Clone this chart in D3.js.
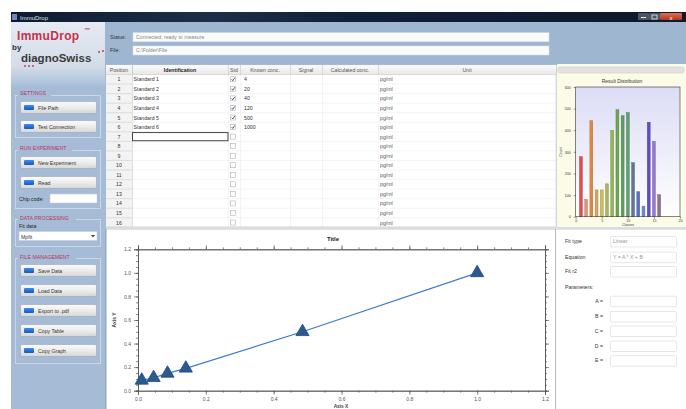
<!DOCTYPE html>
<html><head><meta charset="utf-8">
<script src="https://cdn.jsdelivr.net/npm/d3@7"></script>
<style>
html,body{margin:0;padding:0;background:#fff;}
svg{display:block;font-family:"Liberation Sans",Arial,sans-serif;}
</style></head>
<body><svg id="c" width="686" height="409"></svg>
<script>
// ---------- data ----------
const calX = [0.011, 0.046, 0.087, 0.141, 0.485, 1.0];
const calY = [0.088, 0.11, 0.147, 0.19, 0.50, 1.0];
const xTicks = [0.0, 0.2, 0.4, 0.6, 0.8, 1.0, 1.2];
const yTicks = [0.0, 0.2, 0.4, 0.6, 0.8, 1.0, 1.2];

const histBins = [1, 2, 3, 4, 5, 6, 7, 8, 9, 10, 11, 12, 13, 14, 15, 16];
const histCounts = [278, 80, 444, 124, 124, 152, 399, 495, 467, 482, 250, 116, 49, 437, 349, 102];
const histColors = ["#d9504c","#d9987c","#e0893c","#d6a85c","#cabd5c","#aab45e","#93b552","#6da84e","#5f9e5c","#5e9f73","#5f7890","#5371c4","#6a86ea","#5c4fc4","#9474d6","#8c6c98"];
const histXTicks = [0, 5, 10, 15, 20];
const histYTicks = [0, 100, 200, 300, 400, 500, 600];

const tableCols = ["Position", "Identification", "Std", "Known conc.", "Signal", "Calculated conc.", "Unit"];
const positions = [1,2,3,4,5,6,7,8,9,10,11,12,13,14,15,16];
const idents = ["Standard 1","Standard 2","Standard 3","Standard 4","Standard 5","Standard 6"];
const knownConc = ["4","20","40","120","500","1000"];
const unitLabel = "pg/ml";

const sideGroups = [
  {title:"SETTINGS", items:["File Path","Test Connection"]},
  {title:"RUN EXPERIMENT", items:["New Experiment","Read"]},
  {title:"DATA PROCESSING", items:[]},
  {title:"FILE MANAGEMENT", items:["Save Data","Load Data","Export to .pdf","Copy Table","Copy Graph"]}
];
const fitLabels = ["Fit type","Equation","Fit r2"];
const fitValues = ["Linear","Y = A * X + B",""];
const paramNames = ["A =","B =","C =","D =","E ="];

// ---------- drawing ----------
const svg = d3.select("#c");
const defs = svg.append("defs");
function lg(id, stops, x2=0, y2=1){
  const g = defs.append("linearGradient").attr("id",id).attr("x1",0).attr("y1",0).attr("x2",x2).attr("y2",y2);
  stops.forEach(s=>g.append("stop").attr("offset",s[0]).attr("stop-color",s[1]));
}
lg("tb",[[0,"#0d1b2e"],[0.3,"#1d2f48"],[0.5,"#0f1f35"],[1,"#0c1a2c"]],1,0);
lg("btn",[[0,"#fbfbfb"],[0.5,"#ececec"],[1,"#d6d6d6"]]);
lg("logo",[[0,"#e6ebf2"],[0.7,"#d3dce8"],[1,"#a9bfd9"]]);
lg("hdr",[[0,"#fbfbfb"],[1,"#e8e8e8"]]);
lg("histbg",[[0,"#dcdcf6"],[1,"#ffffff"]],0,1);
lg("icon",[[0,"#3f8cf0"],[1,"#1456c8"]]);
lg("close",[[0,"#d9705a"],[1,"#b8341c"]]);

// window background
svg.append("rect").attr("x",11).attr("y",12).attr("width",675).attr("height",397).attr("fill","#9fb6d0");
// title bar
svg.append("rect").attr("x",11).attr("y",12).attr("width",675).attr("height",10).attr("fill","url(#tb)");
svg.append("rect").attr("x",12).attr("y",14).attr("width",5).attr("height",6).attr("fill","#6f86c0");
svg.append("text").attr("x",20).attr("y",19.5).attr("font-size",6).attr("fill","#dfe6f0").text("ImmuDrop");
svg.append("rect").attr("x",638).attr("y",13).attr("width",11).attr("height",7).attr("fill","#4a5566").attr("rx",1);
svg.append("rect").attr("x",649).attr("y",13).attr("width",11).attr("height",7).attr("fill","#4a5566").attr("rx",1);
svg.append("rect").attr("x",660).attr("y",13).attr("width",22).attr("height",7).attr("fill","url(#close)").attr("rx",1);
svg.append("rect").attr("x",641).attr("y",17).attr("width",5).attr("height",1).attr("fill","#eee");
svg.append("rect").attr("x",652).attr("y",15).attr("width",5).attr("height",4).attr("fill","none").attr("stroke","#eee").attr("stroke-width",0.8);
svg.append("text").attr("x",671).attr("y",19.5).attr("text-anchor","middle").attr("font-size",6).attr("fill","#fff").text("x");

// sidebar
svg.append("rect").attr("x",11).attr("y",22).attr("width",94).attr("height",387).attr("fill","#a6bcd6");
svg.append("rect").attr("x",11).attr("y",22).attr("width",94).attr("height",64).attr("fill","url(#logo)");
// logo
svg.append("text").attr("x",17).attr("y",40).attr("font-size",12).attr("font-weight","bold").attr("fill","#c5304e").attr("letter-spacing",0.3).text("ImmuDrop");
svg.append("text").attr("x",84).attr("y",32).attr("font-size",6).attr("font-weight","bold").attr("fill","#c5304e").text("™");
svg.append("text").attr("x",12).attr("y",50).attr("font-size",8).attr("font-weight","bold").attr("fill","#333").text("by");
svg.append("text").attr("x",21).attr("y",62).attr("font-size",11.5).attr("font-weight","bold").attr("fill","#3a3a3a").text("diagnoSwiss");
[[99,52],[103,51]].forEach(p=>svg.append("circle").attr("cx",p[0]).attr("cy",p[1]).attr("r",1).attr("fill","#c5304e"));
[[25,66],[29,66],[33,66]].forEach(p=>svg.append("circle").attr("cx",p[0]).attr("cy",p[1]).attr("r",0.9).attr("fill","#c5304e"));

// side groups
const groupY = [[89,95,137],[144,150,208],[214,219,246],[253,258,363]];
const btnY = [[101,120],[156,176],[],[264,284,304,324,344]];
sideGroups.forEach((g,i)=>{
  const [ty,by,bb] = groupY[i];
  svg.append("rect").attr("x",15.5).attr("y",by+0.5).attr("width",85).attr("height",bb-by).attr("fill","none").attr("stroke","#c9d7e7").attr("stroke-width",1);
  svg.append("rect").attr("x",18).attr("y",ty).attr("width",g.title.length*3.6+4).attr("height",8).attr("fill","#a6bcd6");
  svg.append("text").attr("x",20).attr("y",ty+6).attr("font-size",5.2).attr("fill","#b8365a").text(g.title);
  g.items.forEach((it,j)=>{
    const y = btnY[i][j];
    svg.append("rect").attr("x",20.5).attr("y",y+0.5).attr("width",76).attr("height",12).attr("rx",1.5).attr("fill","url(#btn)").attr("stroke","#9aa6b4").attr("stroke-width",0.6);
    svg.append("rect").attr("x",24).attr("y",y+4).attr("width",10).attr("height",5).attr("rx",1).attr("fill","url(#icon)");
    svg.append("text").attr("x",38).attr("y",y+8.5).attr("font-size",5.2).attr("fill","#333").text(it);
  });
});
svg.append("text").attr("x",19).attr("y",201).attr("font-size",5.2).attr("fill","#222").text("Chip code:");
svg.append("rect").attr("x",50).attr("y",194).attr("width",47).attr("height",9).attr("fill","#fff").attr("stroke","#c0c8d2").attr("stroke-width",0.5);
svg.append("text").attr("x",19).attr("y",228).attr("font-size",5.2).attr("fill","#222").text("Fit data");
svg.append("rect").attr("x",19).attr("y",231.5).attr("width",78).attr("height",9).attr("fill","#fff").attr("stroke","#c0c8d2").attr("stroke-width",0.5);
svg.append("text").attr("x",21).attr("y",238.5).attr("font-size",5.2).attr("fill","#333").text("Mpfit");
svg.append("path").attr("d","M91,235 L95,235 L93,237.5 Z").attr("fill","#444");

// status & file
[["Status:",32.7,"Connected, ready to measure"],["File:",46,"C:\\Folder\\File"]].forEach(r=>{
  svg.append("text").attr("x",110).attr("y",r[1]+6).attr("font-size",5.2).attr("fill","#333").text(r[0]);
  svg.append("rect").attr("x",133).attr("y",r[1]).attr("width",416).attr("height",9).attr("fill","#fbfbfb").attr("stroke","#d8dfe8").attr("stroke-width",0.5);
  svg.append("text").attr("x",136).attr("y",r[1]+6.3).attr("font-size",5.2).attr("fill","#888").text(r[2]);
});

// ---------- table ----------
const colX = [106, 132, 228, 240, 290, 322, 378, 556];
const tTop = 65, hdrH = 9.5, rowH = 9.55;
svg.append("rect").attr("x",106).attr("y",tTop).attr("width",450).attr("height",hdrH+rowH*16+1).attr("fill","#fff").attr("stroke","#b9c2cc").attr("stroke-width",0.5);
svg.append("rect").attr("x",106).attr("y",tTop).attr("width",450).attr("height",hdrH).attr("fill","url(#hdr)");
svg.append("rect").attr("x",106).attr("y",tTop+hdrH).attr("width",26).attr("height",rowH*16).attr("fill","#f3f3f3");
tableCols.forEach((c,i)=>{
  svg.append("line").attr("x1",colX[i+1]+0.5).attr("x2",colX[i+1]+0.5).attr("y1",tTop).attr("y2",tTop+hdrH+rowH*16).attr("stroke", i===0?"#c8c8c8":"#ececec").attr("stroke-width",0.6);
  svg.append("line").attr("x1",colX[i+1]+0.5).attr("x2",colX[i+1]+0.5).attr("y1",tTop).attr("y2",tTop+hdrH).attr("stroke","#c8c8c8").attr("stroke-width",0.6);
  svg.append("text").attr("x",(colX[i]+colX[i+1])/2).attr("y",tTop+6.5).attr("text-anchor","middle").attr("font-size",5.2)
    .attr("font-weight", i===1?"bold":"normal").attr("fill", i===1?"#222":"#555").text(c);
});
svg.append("line").attr("x1",106).attr("x2",556).attr("y1",tTop+hdrH).attr("y2",tTop+hdrH).attr("stroke","#c8c8c8").attr("stroke-width",0.6);
positions.forEach((p,i)=>{
  const y = tTop+hdrH+rowH*i;
  svg.append("line").attr("x1",106).attr("x2",556).attr("y1",y+rowH).attr("y2",y+rowH).attr("stroke",i<15?"#ececec":"#c8c8c8").attr("stroke-width",0.6);
  svg.append("line").attr("x1",106).attr("x2",132).attr("y1",y+rowH).attr("y2",y+rowH).attr("stroke","#d0d0d0").attr("stroke-width",0.6);
  svg.append("text").attr("x",119).attr("y",y+6.8).attr("text-anchor","middle").attr("font-size",5.2).attr("fill","#333").text(p);
  if(i<idents.length){
    svg.append("text").attr("x",133.5).attr("y",y+6.8).attr("font-size",5.2).attr("fill","#333").text(idents[i]);
    svg.append("text").attr("x",244).attr("y",y+6.8).attr("font-size",5.2).attr("fill","#333").text(knownConc[i]);
  }
  svg.append("rect").attr("x",230.5).attr("y",y+2.3).attr("width",5).attr("height",5).attr("fill","#fff").attr("stroke","#9aa4ae").attr("stroke-width",0.5);
  if(i<idents.length) svg.append("path").attr("d",`M231.6,${y+4.8} L232.8,${y+6.2} L234.8,${y+3.2}`).attr("fill","none").attr("stroke","#333").attr("stroke-width",0.8);
  svg.append("text").attr("x",380).attr("y",y+6.8).attr("font-size",5.2).attr("fill","#555").text(unitLabel);
});
svg.append("rect").attr("x",132.5).attr("y",tTop+hdrH+rowH*6+0.8).attr("width",95.5).attr("height",rowH-1.4).attr("fill","none").attr("stroke","#333").attr("stroke-width",0.9);

// splitter
svg.append("rect").attr("x",106).attr("y",226.5).attr("width",580).attr("height",3).attr("fill","#dcdcdc");

// ---------- histogram panel ----------
svg.append("rect").attr("x",557).attr("y",64).attr("width",129).attr("height",163).attr("fill","#fbfbe8");
svg.append("rect").attr("x",558).attr("y",67).attr("width",126).attr("height",6).attr("rx",2).attr("fill","#e2e2e2").attr("stroke","#c4c4c4").attr("stroke-width",0.5);
svg.append("text").attr("x",622).attr("y",82.5).attr("text-anchor","middle").attr("font-size",5).attr("fill","#333").text("Result Distribution");
const hx = d3.scaleLinear().domain([0,20]).range([575.7,680]);
const hy = d3.scaleLinear().domain([0,600]).range([216.7,87]);
svg.append("rect").attr("x",hx(0)).attr("y",hy(600)).attr("width",hx(20)-hx(0)).attr("height",hy(0)-hy(600)).attr("fill","url(#histbg)");
const bw = 2.9;
svg.append("g").selectAll("rect").data(histBins).join("rect")
  .attr("x",(d)=>hx(d)-bw/2).attr("y",(d,i)=>hy(histCounts[i])).attr("width",bw).attr("height",(d,i)=>hy(0)-hy(histCounts[i]))
  .attr("fill",(d,i)=>histColors[i]).attr("stroke",(d,i)=>d3.color(histColors[i]).darker(0.8)).attr("stroke-width",0.4);
svg.append("rect").attr("x",hx(0)).attr("y",hy(600)).attr("width",hx(20)-hx(0)).attr("height",hy(0)-hy(600)).attr("fill","none").attr("stroke","#333").attr("stroke-width",0.6);
const hAxX = svg.append("g").attr("transform",`translate(0,${hy(0)})`).call(d3.axisBottom(hx).tickValues(histXTicks).tickSize(2).tickPadding(1).tickFormat(d3.format("d")));
const hAxY = svg.append("g").attr("transform",`translate(${hx(0)},0)`).call(d3.axisLeft(hy).tickValues(histYTicks).tickSize(2).tickFormat(d3.format("d")));
[hAxX,hAxY].forEach(a=>{a.select(".domain").remove(); a.selectAll("text").attr("font-size",3.6).attr("fill","#333"); a.selectAll("line").attr("stroke","#333").attr("stroke-width",0.5);});
svg.append("text").attr("transform",`translate(562,152) rotate(-90)`).attr("text-anchor","middle").attr("font-size",3.6).attr("fill","#333").text("Count");
svg.append("text").attr("x",628).attr("y",226).attr("text-anchor","middle").attr("font-size",3.4).attr("fill","#333").text("Classes");

// ---------- main chart panel ----------
svg.append("rect").attr("x",106).attr("y",229.5).attr("width",449).attr("height",180).attr("fill","#fff");
svg.append("line").attr("x1",106).attr("x2",106).attr("y1",229).attr("y2",409).attr("stroke","#8fa2b8").attr("stroke-width",1);
const x = d3.scaleLinear().domain([0,1.2]).range([138,545]);
const y = d3.scaleLinear().domain([0,1.2]).range([390.7,249.3]);
svg.append("text").attr("x",333).attr("y",241).attr("text-anchor","middle").attr("font-size",6).attr("font-weight","bold").attr("fill","#222").text("Title");
const minor = d3.range(0,1.2001,0.05);
function styleAx(g){ g.select(".domain").attr("stroke","#555").attr("stroke-width",0.8); g.selectAll("line").attr("stroke","#555").attr("stroke-width",0.7); g.selectAll("text").attr("font-size",5).attr("fill","#555"); }
// minor ticks
[[d3.axisBottom(x),`translate(0,${y(0)})`],[d3.axisTop(x),`translate(0,${y(1.2)})`]].forEach(a=>{
  svg.append("g").attr("transform",a[1]).call(a[0].tickValues(minor).tickSize(2).tickFormat("")).call(styleAx);
});
[[d3.axisLeft(y),`translate(${x(0)},0)`],[d3.axisRight(y),`translate(${x(1.2)},0)`]].forEach(a=>{
  svg.append("g").attr("transform",a[1]).call(a[0].tickValues(minor).tickSize(2).tickFormat("")).call(styleAx);
});
const gx = svg.append("g").attr("transform",`translate(0,${y(0)})`).call(d3.axisBottom(x).tickValues(xTicks).tickSize(4).tickPadding(3).tickFormat(d3.format(".1f")));
const gy = svg.append("g").attr("transform",`translate(${x(0)},0)`).call(d3.axisLeft(y).tickValues(yTicks).tickSize(4).tickPadding(3).tickFormat(d3.format(".1f")));
styleAx(gx); styleAx(gy);
svg.append("g").attr("transform",`translate(0,${y(1.2)})`).call(d3.axisTop(x).tickValues(xTicks).tickSize(4).tickFormat("")).call(styleAx);
svg.append("g").attr("transform",`translate(${x(1.2)},0)`).call(d3.axisRight(y).tickValues(yTicks).tickSize(4).tickFormat("")).call(styleAx);
svg.append("text").attr("transform",`translate(116,320) rotate(-90)`).attr("text-anchor","middle").attr("font-size",5).attr("font-weight","bold").attr("fill","#444").text("Axis Y");
svg.append("text").attr("x",341).attr("y",407.5).attr("text-anchor","middle").attr("font-size",4.8).attr("font-weight","bold").attr("fill","#444").text("Axis X");
const pts = calX.map((v,i)=>[v,calY[i]]);
svg.append("path").datum(pts).attr("d",d3.line().x(d=>x(d[0])).y(d=>y(d[1]))).attr("fill","none").attr("stroke","#3b7bd0").attr("stroke-width",1.2);
svg.append("g").selectAll("path").data(pts).join("path")
  .attr("transform",d=>`translate(${x(d[0])},${y(d[1])})`)
  .attr("d",d3.symbol(d3.symbolTriangle,75)).attr("fill","#2d5a8e").attr("stroke","#1e4676").attr("stroke-width",0.8);

// ---------- fit panel ----------
svg.append("rect").attr("x",556).attr("y",229.5).attr("width",130).attr("height",180).attr("fill","#fff");
svg.append("line").attr("x1",555.5).attr("x2",555.5).attr("y1",229).attr("y2",409).attr("stroke","#b4bcc6").attr("stroke-width",1);
const fitY = [236,251.7,266];
fitLabels.forEach((l,i)=>{
  svg.append("text").attr("x",565).attr("y",fitY[i]+7).attr("font-size",5.2).attr("fill","#333").text(l);
  svg.append("rect").attr("x",610.5).attr("y",fitY[i]+0.5).attr("width",66).attr("height",10.5).attr("rx",1).attr("fill","#fff").attr("stroke","#d4d8dd").attr("stroke-width",0.6);
  svg.append("text").attr("x",613).attr("y",fitY[i]+7.3).attr("font-size",5.2).attr("fill","#999").text(fitValues[i]);
});
svg.append("text").attr("x",565).attr("y",289).attr("font-size",5.2).attr("fill","#333").text("Parameters:");
const parY = [295.7,311,325.5,340.5,355.2];
paramNames.forEach((p,i)=>{
  svg.append("text").attr("x",603).attr("y",parY[i]+7).attr("text-anchor","end").attr("font-size",5.2).attr("fill","#333").text(p);
  svg.append("rect").attr("x",610.5).attr("y",parY[i]+0.5).attr("width",66).attr("height",10.5).attr("rx",1).attr("fill","#fff").attr("stroke","#d4d8dd").attr("stroke-width",0.6);
});
</script></body></html>
